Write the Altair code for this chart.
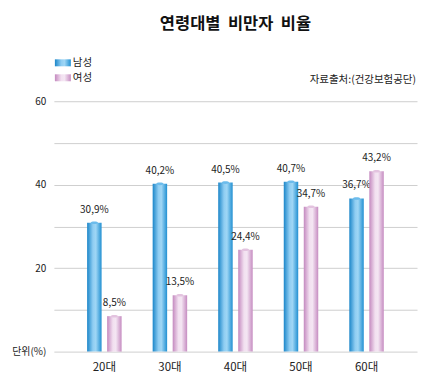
import altair as alt
import pandas as pd

ages = ["20대", "30대", "40대", "50대", "60대"]
male = [30.9, 40.2, 40.5, 40.7, 36.7]
female = [8.5, 13.5, 24.4, 34.7, 43.2]
male_labels = ["30,9%", "40,2%", "40,5%", "40,7%", "36,7%"]
female_labels = ["8,5%", "13,5%", "24,4%", "34,7%", "43,2%"]
groups = ["남성", "여성"]

rows = []
for a, v, l in zip(ages, male, male_labels):
    rows.append({"age": a, "g": "남성", "v": v, "lab": l})
for a, v, l in zip(ages, female, female_labels):
    rows.append({"age": a, "g": "여성", "v": v, "lab": l})
df = pd.DataFrame(rows)

FONT = "Noto Sans CJK KR"

blue_grad = alt.LinearGradient(
    gradient="linear", x1=0, x2=1, y1=0, y2=0,
    stops=[alt.GradientStop(offset=0, color="#1b86c9"),
           alt.GradientStop(offset=0.4, color="#8fcdf2"),
           alt.GradientStop(offset=0.6, color="#9fd6f5"),
           alt.GradientStop(offset=1, color="#2190d2")])
pink_grad = alt.LinearGradient(
    gradient="linear", x1=0, x2=1, y1=0, y2=0,
    stops=[alt.GradientStop(offset=0, color="#c489bf"),
           alt.GradientStop(offset=0.4, color="#f2e0f0"),
           alt.GradientStop(offset=0.6, color="#f4e6f3"),
           alt.GradientStop(offset=1, color="#c68cc1")])

xenc = alt.X("age:N", sort=ages, title=None,
             scale=alt.Scale(paddingInner=0, paddingOuter=0.27),
             axis=alt.Axis(labelAngle=0, domain=False, ticks=False, grid=False, labelPadding=10,
                           labelFontSize=11.5, labelColor="#222", labelFont=FONT))
yenc = alt.Y("v:Q", title=None,
             scale=alt.Scale(domain=[0, 60], nice=False),
             axis=alt.Axis(values=[0, 10, 20, 30, 40, 50, 60], domain=False, ticks=False,
                           labelExpr="datum.value == 0 ? '단위(%)' : (datum.value % 20 == 0 ? datum.label : '')",
                           labelFontSize=10, labelColor="#222", labelPadding=8, labelFont=FONT,
                           gridColor="#cfcfcf", gridWidth=1))
xoff = alt.XOffset("g:N", sort=groups,
                   scale=alt.Scale(paddingInner=0.275, paddingOuter=0.775))

base = alt.Chart(df)

def bars(gname, grad, topcolor):
    d = base.transform_filter(alt.datum.g == gname)
    rect = d.mark_bar(fill=grad, size=14.5).encode(x=xenc, xOffset=xoff, y=yenc)
    top = d.mark_point(
        shape="M-1,0 A1,0.35 0 1,0 1,0 A1,0.35 0 1,0 -1,0 Z",
        size=53, filled=True, fill=topcolor, opacity=1, strokeWidth=0
    ).encode(x=xenc, xOffset=xoff, y=yenc)
    txt = d.mark_text(dy=-13, fontSize=10, font=FONT, color="#222").encode(
        x=xenc, xOffset=xoff, y=yenc, text="lab:N")
    return rect + top + txt

male_layer = bars("남성", blue_grad, "#6cbcec")
female_layer = bars("여성", pink_grad, "#e3c3df")

leg_df = pd.DataFrame({"g": groups})
leg_m_rect = alt.Chart(leg_df).transform_filter(alt.datum.g == "남성").mark_rect(
    fill=blue_grad).encode(x=alt.value(1), x2=alt.value(17), y=alt.value(-42), y2=alt.value(-35))
leg_f_rect = alt.Chart(leg_df).transform_filter(alt.datum.g == "여성").mark_rect(
    fill=pink_grad).encode(x=alt.value(1), x2=alt.value(17), y=alt.value(-27), y2=alt.value(-20))
leg_m_txt = alt.Chart(leg_df).transform_filter(alt.datum.g == "남성").mark_text(
    align="left", baseline="middle", fontSize=10.5, font=FONT, color="#222").encode(
    x=alt.value(19), y=alt.value(-38), text="g:N")
leg_f_txt = alt.Chart(leg_df).transform_filter(alt.datum.g == "여성").mark_text(
    align="left", baseline="middle", fontSize=10.5, font=FONT, color="#222").encode(
    x=alt.value(19), y=alt.value(-23), text="g:N")

src_df = pd.DataFrame({"t": ["자료출처:(건강보험공단)"]})
src = alt.Chart(src_df).mark_text(
    align="right", baseline="middle", fontSize=10.5, font=FONT, color="#222").encode(
    x=alt.value(363), y=alt.value(-21), text="t:N")

chart = alt.layer(
    male_layer, female_layer, leg_m_rect, leg_f_rect, leg_m_txt, leg_f_txt, src
).properties(
    width=364, height=251,
    background="white",
    autosize=alt.AutoSizeParams(type="none"),
    padding={"left": 46, "top": 93, "right": 6, "bottom": 30},
    title=alt.TitleParams("연령대별\u00a0 비만자\u00a0 비율", font=FONT, fontSize=16.5, fontWeight="bold",
                          color="#111", anchor="middle", offset=26),
).configure_view(strokeWidth=0)

chart.save("out.html", embed_options={"renderer": "svg", "actions": False})
